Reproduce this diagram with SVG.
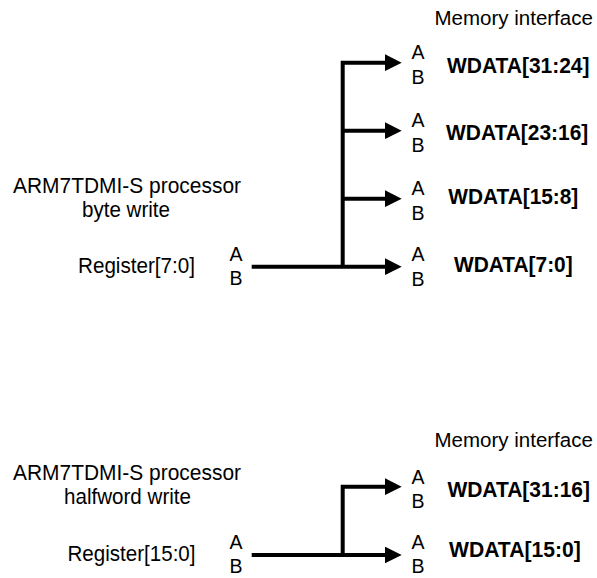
<svg xmlns="http://www.w3.org/2000/svg" width="597" height="578" viewBox="0 0 597 578">
<style>
text{font-family:"Liberation Sans",Arial,sans-serif;fill:#000}
.lbl{font-size:22px}
.mi{font-size:20.5px}
.ab{font-size:19.5px;text-anchor:middle}
.wd{font-size:22px;font-weight:bold}
.wire{fill:none;stroke:#000;stroke-width:4;stroke-linejoin:miter;stroke-linecap:butt}
</style>
<defs>
<marker id="arr" markerUnits="userSpaceOnUse" markerWidth="17" markerHeight="17" viewBox="0 0 17 17" refX="7.3" refY="8.5" orient="auto">
<path d="M0,0 L17,8.5 L0,17 z" fill="#000"/>
</marker>
</defs>
<rect width="597" height="578" fill="#fff"/>

<g id="top-title">
<text class="mi" x="434.5" y="24.5">Memory interface</text>
<text class="lbl" x="13" y="193" textLength="228" lengthAdjust="spacingAndGlyphs">ARM7TDMI-S processor</text>
<text class="lbl" x="82" y="216.5" textLength="88" lengthAdjust="spacingAndGlyphs">byte write</text>
</g>
<g id="top-register">
<text class="lbl" x="78" y="272.5" textLength="117" lengthAdjust="spacingAndGlyphs">Register[7:0]</text>
<text class="ab" x="236" y="261">A</text>
<text class="ab" x="236" y="285">B</text>
</g>
<g id="top-wdata-31-24">
<text class="ab" x="418" y="59">A</text>
<text class="ab" x="418" y="83.5">B</text>
<text class="wd" x="447" y="72.5" textLength="142.5" lengthAdjust="spacingAndGlyphs">WDATA[31:24]</text>
</g>
<g id="top-wdata-23-16">
<text class="ab" x="418" y="127">A</text>
<text class="ab" x="418" y="151.5">B</text>
<text class="wd" x="446" y="139.5" textLength="142.3" lengthAdjust="spacingAndGlyphs">WDATA[23:16]</text>
</g>
<g id="top-wdata-15-8">
<text class="ab" x="418" y="195">A</text>
<text class="ab" x="418" y="219.5">B</text>
<text class="wd" x="448.3" y="204" textLength="130" lengthAdjust="spacingAndGlyphs">WDATA[15:8]</text>
</g>
<g id="top-wdata-7-0">
<text class="ab" x="418" y="261">A</text>
<text class="ab" x="418" y="285.5">B</text>
<text class="wd" x="454" y="272" textLength="118.7" lengthAdjust="spacingAndGlyphs">WDATA[7:0]</text>
</g>

<g id="bottom-title">
<text class="mi" x="434.5" y="446.5">Memory interface</text>
<text class="lbl" x="13" y="480" textLength="228" lengthAdjust="spacingAndGlyphs">ARM7TDMI-S processor</text>
<text class="lbl" x="64" y="504" textLength="127" lengthAdjust="spacingAndGlyphs">halfword write</text>
</g>
<g id="bottom-register">
<text class="lbl" x="67.5" y="560.5" textLength="128" lengthAdjust="spacingAndGlyphs">Register[15:0]</text>
<text class="ab" x="236" y="549">A</text>
<text class="ab" x="236" y="573">B</text>
</g>
<g id="bottom-wdata-31-16">
<text class="ab" x="418" y="483.5">A</text>
<text class="ab" x="418" y="508">B</text>
<text class="wd" x="447.4" y="496.5" textLength="142.6" lengthAdjust="spacingAndGlyphs">WDATA[31:16]</text>
</g>
<g id="bottom-wdata-15-0">
<text class="ab" x="418" y="549">A</text>
<text class="ab" x="418" y="573">B</text>
<text class="wd" x="449" y="556.5" textLength="131.7" lengthAdjust="spacingAndGlyphs">WDATA[15:0]</text>
</g>

<g id="connectors">
<path class="wire" d="M251.7,266.7 H392" marker-end="url(#arr)"/>
<path class="wire" d="M342.7,266.7 V62.7 H392" marker-end="url(#arr)"/>
<path class="wire" d="M342.7,130.7 H392" marker-end="url(#arr)"/>
<path class="wire" d="M342.7,198.7 H392" marker-end="url(#arr)"/>
<path class="wire" d="M251.7,555 H392" marker-end="url(#arr)"/>
<path class="wire" d="M342.7,555 V486.7 H392" marker-end="url(#arr)"/>
</g>
</svg>
